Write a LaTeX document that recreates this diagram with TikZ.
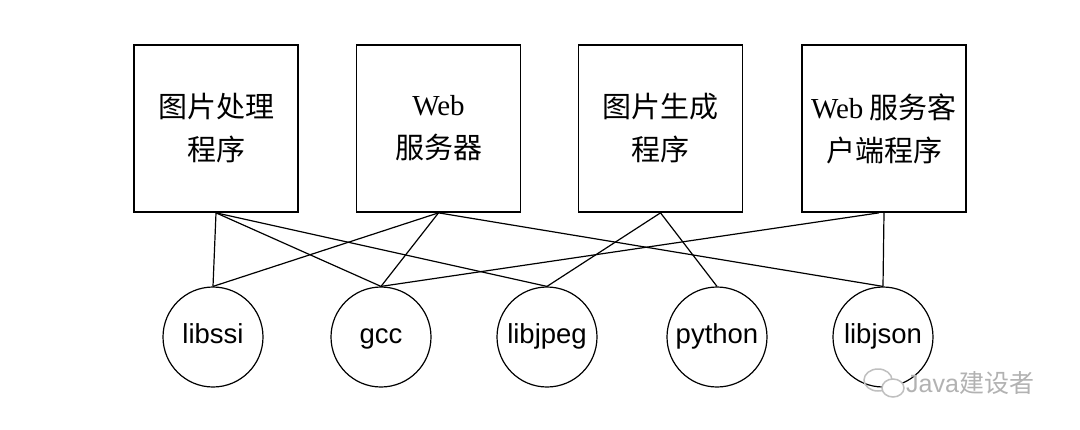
\documentclass[tikz,border=0pt]{standalone}
\usepackage{fontspec}
\setmainfont{Liberation Serif}
\newfontfamily\cjk{Noto Sans CJK SC}
\newfontfamily\libfont{Liberation Sans}

\begin{document}
\begin{tikzpicture}[x=1pt, y=-1pt,
  progbox/.style={draw, line width=1.7pt, minimum width=164pt, minimum height=167pt,
    align=center, inner sep=0pt, font=\cjk\fontsize{29}{43}\selectfont},
  libnode/.style={draw, circle, line width=1.2pt, minimum size=100pt, inner sep=0pt,
    text height=18pt, text depth=6pt, font=\libfont\fontsize{27.5}{30}\selectfont},
  link/.style={line width=1.2pt}]
\path[fill=white] (0,0) rectangle (1080,429);
\node[progbox] (imgproc) at (216,128.5) {图片处理\\程序};
\node[progbox] (websrv) at (438.5,128.5) {{\rmfamily Web}\\服务器};
\node[progbox] (imggen) at (660.5,128.5) {图片生成\\程序};
\node[progbox] (webcli) at (884,128.5) {{\rmfamily Web} 服务客\\户端程序};
\node[libnode] (libssi) at (213,337) {libssi};
\node[libnode] (gcc) at (381,337) {gcc};
\node[libnode] (libjpeg) at (547,337) {libjpeg};
\node[libnode] (python) at (717,337) {python};
\node[libnode] (libjson) at (883,337) {libjson};
\draw[link] (imgproc.south) -- (libssi.north);
\draw[link] (imgproc.south) -- (gcc.north);
\draw[link] (imgproc.south) -- (libjpeg.north);
\draw[link] (websrv.south) -- (libssi.north);
\draw[link] (websrv.south) -- (gcc.north);
\draw[link] (websrv.south) -- (libjson.north);
\draw[link] (imggen.south) -- (libjpeg.north);
\draw[link] (imggen.south) -- (python.north);
\draw[link] ([xshift=-5pt]webcli.south) -- (gcc.north);
\draw[link] (webcli.south) -- (libjson.north);
\draw[black!25, line width=1.5pt] (878,380) ellipse (14 and 11);
\draw[black!25, line width=1.5pt, fill=white] (893,388) ellipse (11 and 9);
\node[anchor=west, inner sep=0pt, text=black!30, font=\libfont\fontsize{25}{28}\selectfont] (mark) at (906,383) {Java{\cjk 建设者}};
\end{tikzpicture}
\end{document}
